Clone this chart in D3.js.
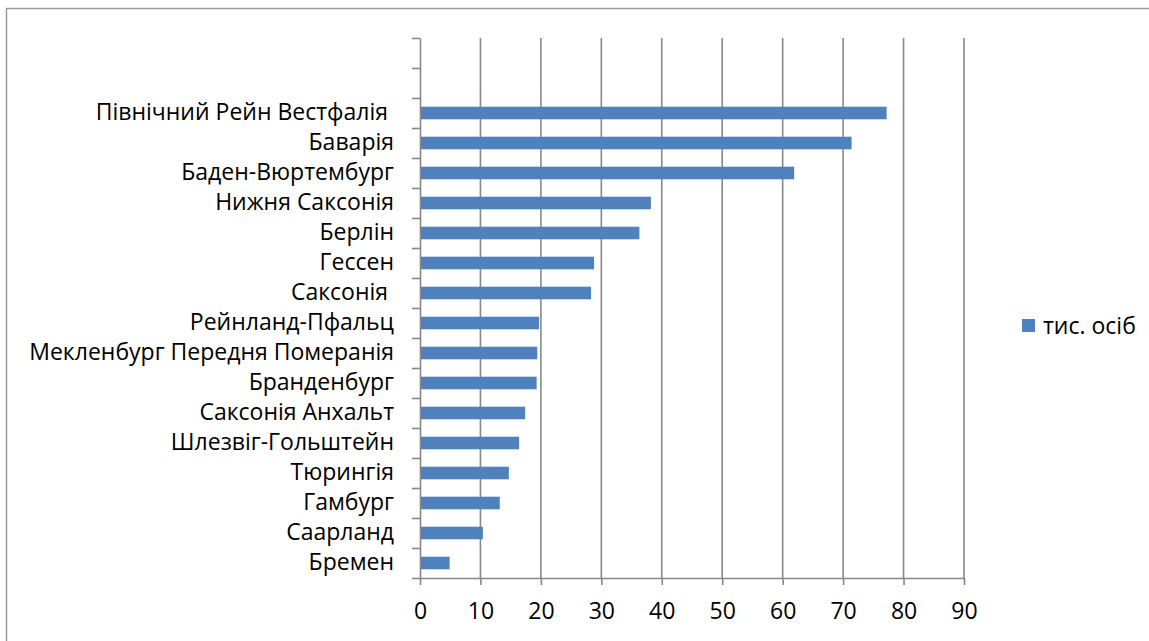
<!DOCTYPE html>
<html>
<head>
<meta charset="utf-8">
<script src="https://cdn.jsdelivr.net/npm/d3@7"></script>
<style>
  body { margin: 0; background: #fff; }
  text { font-family: "Open Sans", "Noto Sans", sans-serif; fill: #000; white-space: pre; }
</style>
</head>
<body>
<div id="chart"></div>
<script>
// categories top to bottom, two empty slots on top like in the source
var categories = ["", "",
    "Північний Рейн Вестфалія ", "Баварія", "Баден-Вюртембург", "Нижня Саксонія",
    "Берлін", "Гессен", "Саксонія ", "Рейнланд-Пфальц",
    "Мекленбург Передня Померанія", "Бранденбург", "Саксонія Анхальт", "Шлезвіг-Гольштейн",
    "Тюрингія", "Гамбург", "Саарланд", "Бремен"];
var values = [null, null,
    77.2, 71.4, 61.9, 38.2,
    36.3, 28.8, 28.3, 19.7,
    19.4, 19.3, 17.4, 16.4,
    14.7, 13.2, 10.4, 4.9];
var xTicks = [0, 10, 20, 30, 40, 50, 60, 70, 80, 90];
var seriesName = "тис. осіб";

var W = 1149, H = 641;
var plotL = 420, plotR = 964, plotT = 38, plotB = 578;
var gridColor = "#888888";
var fontSize = "23px";

var svg = d3.select("#chart").append("svg")
    .attr("width", W).attr("height", H);

// outer frame (runs past right and bottom edges)
svg.append("rect")
    .attr("x", 6.5).attr("y", 8.5)
    .attr("width", 1200).attr("height", 700)
    .attr("fill", "none")
    .attr("stroke", "#9a9a9a")
    .attr("stroke-width", 1.5);

var x = d3.scaleLinear().domain([0, 90]).range([plotL, plotR]);
var idx = d3.range(categories.length);
var y = d3.scaleBand().domain(idx).range([plotT, plotB])
    .paddingInner(0.58).paddingOuter(0.29);
var yEdge = d3.scaleLinear().domain([0, categories.length]).range([plotT, plotB]);

// vertical grid
svg.append("g")
    .selectAll("line")
    .data(xTicks.slice(1))
    .join("line")
    .attr("x1", d => x(d)).attr("x2", d => x(d))
    .attr("y1", plotT).attr("y2", plotB)
    .attr("stroke", gridColor)
    .attr("stroke-width", 1.6);

// bars
svg.append("g")
    .selectAll("rect")
    .data(idx.filter(i => values[i] != null))
    .join("rect")
    .attr("x", x(0))
    .attr("y", i => y(i))
    .attr("width", i => x(values[i]) - x(0))
    .attr("height", y.bandwidth())
    .attr("fill", "#4f81bd");

// x axis
var xAxis = svg.append("g")
    .attr("transform", "translate(0," + plotB + ")")
    .call(d3.axisBottom(x).tickValues(xTicks).tickSize(7).tickPadding(18).tickSizeOuter(0));
xAxis.select(".domain").attr("stroke", gridColor).attr("stroke-width", 1.6);
xAxis.selectAll(".tick line").attr("stroke", gridColor).attr("stroke-width", 1.6);
xAxis.selectAll(".tick text").style("font-size", fontSize).attr("fill", "#000");

// y axis: ticks between categories
var yAxis = svg.append("g")
    .attr("transform", "translate(" + plotL + ",0)")
    .call(d3.axisLeft(yEdge).tickValues(d3.range(categories.length + 1))
        .tickFormat("").tickSize(8).tickSizeOuter(0));
yAxis.select(".domain").attr("stroke", gridColor).attr("stroke-width", 1.6);
yAxis.selectAll(".tick line").attr("stroke", gridColor).attr("stroke-width", 1.6);

// category labels
var yLab = svg.append("g")
    .attr("transform", "translate(" + plotL + ",0)")
    .call(d3.axisLeft(y).tickFormat(i => categories[i]).tickSize(0).tickPadding(26));
yLab.select(".domain").remove();
yLab.selectAll(".tick text").style("font-size", fontSize).attr("fill", "#000");

// legend
var lg = svg.append("g").attr("transform", "translate(1022,319)");
lg.append("rect").attr("width", 13).attr("height", 13).attr("fill", "#4f81bd");
lg.append("text").attr("x", 21).attr("y", 7).attr("dy", "0.35em")
    .style("font-size", fontSize).text(seriesName);
</script>
</body>
</html>
